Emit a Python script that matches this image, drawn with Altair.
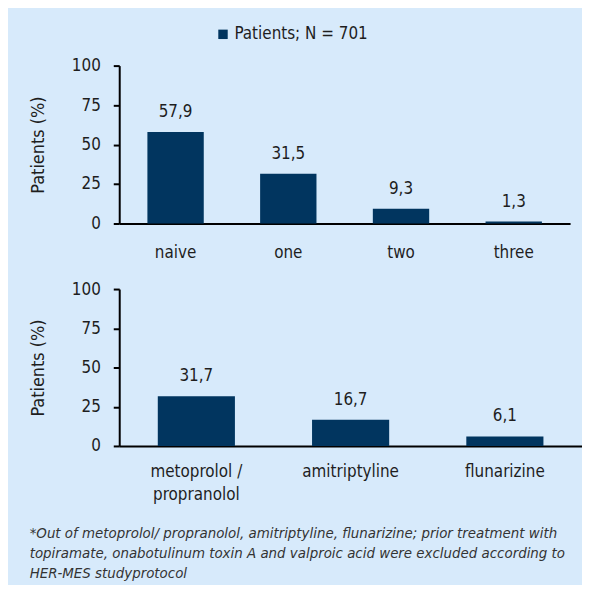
import altair as alt
import pandas as pd

legend_label = "Patients; N = 701"
top_categories = ["naive", "one", "two", "three"]
top_values = [57.9, 31.5, 9.3, 1.3]
bottom_categories = ["metoprolol / propranolol", "amitriptyline", "flunarizine"]
bottom_values = [31.7, 16.7, 6.1]
y_ticks = [0, 25, 50, 75, 100]
y_title = "Patients (%)"
footnote_lines = [
    "*Out of metoprolol/ propranolol, amitriptyline, flunarizine; prior treatment with",
    "topiramate, onabotulinum toxin A and valproic acid were excluded according to",
    "HER-MES studyprotocol",
]

FONT = "Liberation Sans Narrow, Arial Narrow, DejaVu Sans Condensed, sans-serif"
BG = "#d7eafb"
BAR = "#01355f"
TXT = "#1e1e1e"


def fmt(v):
    return f"{v:.1f}".replace(".", ",")


def make_df(cats, vals):
    return pd.DataFrame({
        "cat": cats,
        "val": vals,
        "lab": [fmt(v) for v in vals],
        "series": [legend_label] * len(cats),
    })


def panel(df, cats, width, height, show_legend, x_label_pad):
    x_axis = alt.Axis(
        title=None, labelAngle=0, ticks=False, domainColor="black", domainWidth=2,
        labelFontSize=17, labelPadding=x_label_pad, labelColor=TXT, labelFont=FONT,
        labelLineHeight=23,
        labelExpr="datum.label == 'metoprolol / propranolol' ? ['metoprolol /', 'propranolol'] : datum.label",
    )
    y_axis = alt.Axis(
        values=y_ticks, title=y_title, grid=False, domainColor="black", domainWidth=2,
        tickColor="black", tickWidth=2, tickSize=6, labelFontSize=17, labelPadding=13,
        labelColor=TXT, labelFont=FONT, titleFont=FONT, titleFontSize=18,
        titleFontWeight="normal", titleColor=TXT, titlePadding=24, labelOverlap=False,
    )
    base = alt.Chart(df).encode(
        x=alt.X("cat:N", sort=cats,
                scale=alt.Scale(paddingInner=0.5, paddingOuter=0.25), axis=x_axis),
        y=alt.Y("val:Q", scale=alt.Scale(domain=[0, 100]), axis=y_axis),
    )
    legend = None
    if show_legend:
        legend = alt.Legend(
            title=None, orient="none", legendX=96, legendY=-40, symbolType="square",
            symbolSize=90, symbolStrokeWidth=0, labelFontSize=17, labelFont=FONT,
            labelColor=TXT, labelOffset=3,
        )
    bars = base.mark_bar().encode(
        color=alt.Color("series:N", scale=alt.Scale(range=[BAR]), legend=legend),
    )
    text = base.mark_text(baseline="bottom", dy=-11, fontSize=17, font=FONT,
                          color=TXT).encode(text="lab:N")
    return alt.layer(bars, text).properties(width=width, height=height)


top = panel(make_df(top_categories, top_values), top_categories, 454, 159, True, 21)
bottom = panel(make_df(bottom_categories, bottom_values), bottom_categories, 466, 158, False, 18)

chart = alt.vconcat(top, bottom, spacing=20).properties(
    title=alt.TitleParams(
        text=footnote_lines, orient="bottom", anchor="start", fontStyle="italic",
        fontSize=15, fontWeight="normal", font=FONT, color="#333333",
        lineHeight=20, offset=24,
    ),
    padding={"left": 21, "top": 16, "right": 0, "bottom": 2},
).configure(background=BG, font=FONT).configure_view(stroke=None)

chart.save("out.html", embed_options={"renderer": "svg", "actions": False})
